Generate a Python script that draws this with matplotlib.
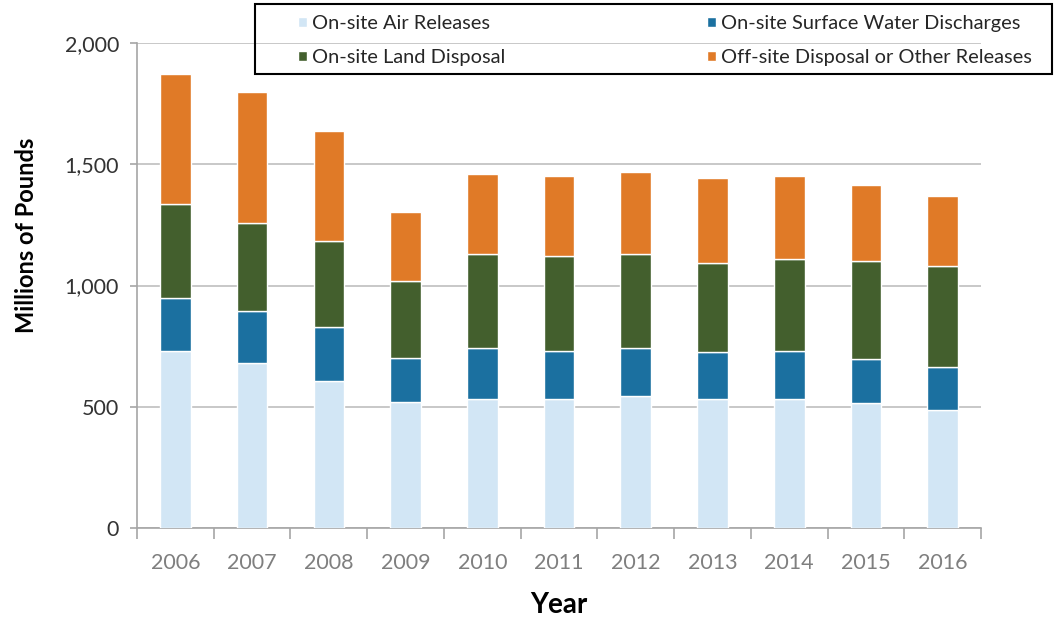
import matplotlib
matplotlib.use("Agg")
import matplotlib.pyplot as plt
from matplotlib.patches import Rectangle
import numpy as np

years = ['2006', '2007', '2008', '2009', '2010', '2011', '2012', '2013', '2014', '2015', '2016']
air = [729, 680, 608, 519, 534, 534, 543, 534, 534, 517, 488]
water = [219, 213, 220, 181, 210, 196, 201, 191, 196, 182, 174]
land = [387, 364, 356, 318, 387, 393, 387, 366, 380, 402, 419]
offsite = [538, 542, 454, 287, 328, 330, 337, 352, 343, 314, 288]

labels = ['On-site Air Releases', 'On-site Surface Water Discharges',
          'On-site Land Disposal', 'Off-site Disposal or Other Releases']
colors = ['#D2E6F5', '#1B70A0', '#435F2D', '#E07A27']

plt.rcParams['font.family'] = ['Lato', 'DejaVu Sans']

fig = plt.figure(figsize=(10.64, 6.18), dpi=100)
ax = fig.add_axes([0.1288, 0.1456, 0.7932, 0.7848])

x = np.arange(len(years))
bottom = np.zeros(len(years))
handles = []
for vals, c, lab in zip([air, water, land, offsite], colors, labels):
    b = ax.bar(x, vals, width=0.4, bottom=bottom, color=c, edgecolor='white',
               linewidth=1, label=lab, zorder=3)
    handles.append(b)
    bottom += np.array(vals)

ax.set_xlim(-0.5, len(years) - 0.5)
ax.set_ylim(0, 2000)
ax.set_yticks([0, 500, 1000, 1500, 2000])
ax.set_yticklabels(['0', '500', '1,000', '1,500', '2,000'], color='#333333', fontsize=15.5)
ax.yaxis.grid(True, color='#BFBFBF', linewidth=1.2, zorder=0)

ax.set_xticks(x)
ax.set_xticklabels(years, color='#7F7F7F', fontsize=15.5)
ax.tick_params(axis='x', which='major', length=0, pad=18)
ax.set_xticks(np.arange(-0.5, len(years)), minor=True)
ax.tick_params(axis='x', which='minor', length=8, color='#A6A6A6', width=1.2)
ax.tick_params(axis='y', length=5, color='#A6A6A6', width=1.2, pad=8)

for s in ['top', 'right']:
    ax.spines[s].set_visible(False)
for s in ['left', 'bottom']:
    ax.spines[s].set_color('#A6A6A6')
    ax.spines[s].set_linewidth(1.2)

ax.set_xlabel('Year', fontsize=20, fontweight='bold', labelpad=14)
ax.set_ylabel('Millions of Pounds', fontsize=17, fontweight='bold')
ax.yaxis.set_label_coords(-0.117, 0.604)

# legend box drawn separately, legend itself frameless
fig.patches.append(Rectangle((255 / 1064, 1 - 74 / 618), 797 / 1064, 70 / 618,
                             transform=fig.transFigure, fill=False,
                             edgecolor='black', linewidth=1.5))
order = [0, 2, 1, 3]
fig.legend([handles[i] for i in order], [labels[i] for i in order],
           ncol=2, loc='upper left', bbox_to_anchor=(298 / 1064, 1 - 15 / 618),
           fontsize=14.4, frameon=False, handlelength=0.45, handleheight=0.45,
           handletextpad=0.25, labelspacing=0.85, columnspacing=10.1,
           borderpad=0, borderaxespad=0, labelcolor='#262626')

fig.savefig('out.png', dpi=100)
